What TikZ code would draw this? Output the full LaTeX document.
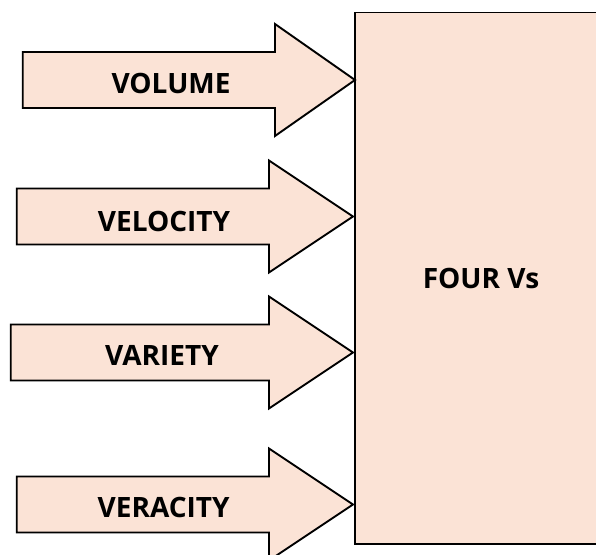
\documentclass[tikz,border=0pt]{standalone}
\usepackage{fontspec}
\setmainfont{Open Sans}
\definecolor{peach}{HTML}{FBE3D6}
\begin{document}
\begin{tikzpicture}[x=1pt,y=-1pt,
  shapeline/.style={draw=black,line width=1.9pt,fill=peach,line join=miter},
  label/.style={font=\bfseries\fontsize{28}{31}\selectfont,inner sep=0pt,text depth=0pt,anchor=center}]
  \useasboundingbox (0,0) rectangle (596,554);
  % block on the right, running past the edge
  \begin{scope}
    \clip (0,0) rectangle (596,554);
    \draw[shapeline] (355,12.5) rectangle (612,544);
  \end{scope}
  \node[label] (four) at (481,278) {FOUR Vs};
  % block arrows: left end, head base, tip x, centre line
  \newcommand{\blockarrow}[4]{%
    \draw[shapeline] (#1,#4-28) -- (#2,#4-28) -- (#2,#4-56) -- (#3,#4)
      -- (#2,#4+56) -- (#2,#4+28) -- (#1,#4+28) -- cycle;}
  \blockarrow{22.7}{275}{355}{80}
  \blockarrow{16.7}{269}{353}{216.5}
  \blockarrow{10.7}{269}{353}{352.5}
  \blockarrow{16.7}{269}{353}{504.5}
  \node[label] (volume) at (171,83.3) {VOLUME};
  \node[label] (velocity) at (164,221) {VELOCITY};
  \node[label] (variety) at (162,355.5) {VARIETY};
  \node[label] (veracity) at (163.7,507.5) {VERACITY};
\end{tikzpicture}
\end{document}
